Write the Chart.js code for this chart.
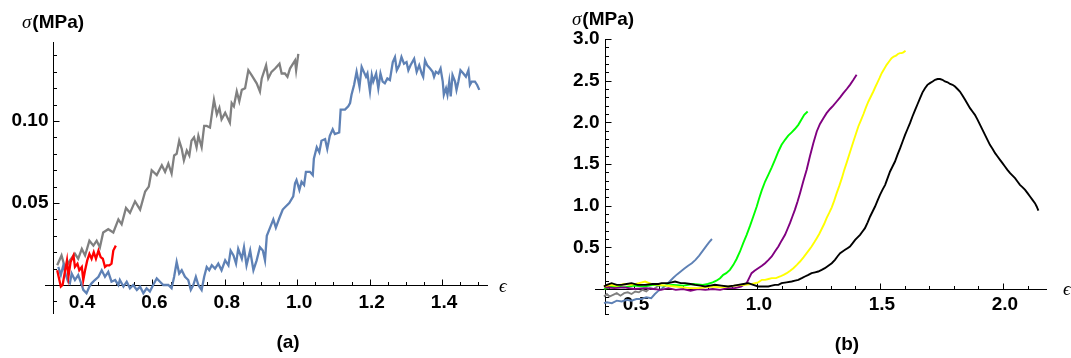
<!DOCTYPE html>
<html lang="en">
<head>
  <meta charset="UTF-8" />
  <title>Stress-strain curves (a) and (b)</title>
  <script src="https://cdnjs.cloudflare.com/ajax/libs/Chart.js/4.4.1/chart.umd.min.js"></script>
  <style>
    *{margin:0;padding:0;box-sizing:border-box}
    body{width:1071px;height:358px;background:#fff;overflow:hidden;position:relative}
    canvas{position:absolute;top:0}
    #chartA{left:0}
    #chartB{left:535px}
  </style>
</head>
<body>
  <canvas id="chartA" width="535" height="358"></canvas>
  <canvas id="chartB" width="536" height="358"></canvas>

  <script>
    // ---- panel (a) data : [strain, stress MPa] ----
    const grayA = [[0.337,0.012],[0.349,0.018],[0.359,0.010],[0.372,0.015],[0.386,0.019],[0.395,0.016],[0.405,0.022],[0.414,0.018],[0.426,0.027],[0.437,0.024],[0.446,0.027],[0.455,0.023],[0.464,0.032],[0.478,0.034],[0.492,0.032],[0.506,0.040],[0.515,0.037],[0.527,0.047],[0.538,0.044],[0.552,0.051],[0.566,0.046],[0.580,0.057],[0.590,0.060],[0.598,0.070],[0.612,0.067],[0.626,0.073],[0.635,0.069],[0.644,0.074],[0.653,0.068],[0.660,0.079],[0.667,0.080],[0.674,0.088],[0.681,0.083],[0.687,0.076],[0.695,0.082],[0.702,0.079],[0.708,0.088],[0.715,0.090],[0.722,0.084],[0.727,0.091],[0.736,0.084],[0.743,0.097],[0.750,0.097],[0.759,0.096],[0.766,0.107],[0.770,0.113],[0.778,0.104],[0.785,0.108],[0.791,0.101],[0.801,0.105],[0.814,0.099],[0.819,0.111],[0.825,0.109],[0.833,0.118],[0.840,0.112],[0.847,0.119],[0.856,0.120],[0.865,0.131],[0.874,0.128],[0.888,0.123],[0.897,0.118],[0.902,0.126],[0.914,0.134],[0.920,0.126],[0.929,0.130],[0.939,0.132],[0.951,0.135],[0.957,0.129],[0.966,0.129],[0.973,0.127],[0.980,0.132],[0.994,0.137],[0.997,0.131],[1.003,0.141]];
    const blueA = [[0.340,0.011],[0.347,0.006],[0.354,0.012],[0.361,0.006],[0.367,0.002],[0.372,0.001],[0.377,0.007],[0.386,0.003],[0.395,0.006],[0.405,0.000],[0.409,-0.003],[0.418,-0.005],[0.426,-0.001],[0.432,0.001],[0.441,0.003],[0.451,0.005],[0.460,0.009],[0.469,0.005],[0.478,0.008],[0.487,0.002],[0.497,0.003],[0.506,0.000],[0.510,0.003],[0.520,-0.001],[0.529,0.002],[0.538,-0.002],[0.547,0.000],[0.557,-0.003],[0.566,-0.001],[0.575,-0.005],[0.584,-0.002],[0.593,-0.004],[0.602,0.000],[0.612,0.004],[0.621,0.002],[0.630,0.000],[0.644,0.000],[0.653,-0.002],[0.660,0.005],[0.667,0.014],[0.674,0.007],[0.681,0.009],[0.690,0.005],[0.699,0.003],[0.706,-0.003],[0.713,0.000],[0.720,0.005],[0.727,0.000],[0.736,-0.003],[0.743,0.005],[0.750,0.011],[0.757,0.009],[0.764,0.012],[0.773,0.010],[0.782,0.013],[0.791,0.009],[0.801,0.015],[0.810,0.012],[0.816,0.021],[0.824,0.018],[0.831,0.013],[0.837,0.022],[0.847,0.016],[0.853,0.023],[0.860,0.012],[0.870,0.021],[0.879,0.009],[0.888,0.015],[0.897,0.023],[0.905,0.021],[0.911,0.015],[0.916,0.030],[0.925,0.035],[0.934,0.040],[0.941,0.035],[0.951,0.041],[0.960,0.046],[0.969,0.048],[0.978,0.050],[0.989,0.054],[0.994,0.062],[0.998,0.064],[1.006,0.058],[1.012,0.063],[1.019,0.061],[1.024,0.069],[1.035,0.069],[1.043,0.067],[1.046,0.077],[1.054,0.084],[1.061,0.081],[1.067,0.088],[1.077,0.089],[1.083,0.083],[1.090,0.091],[1.098,0.095],[1.104,0.092],[1.116,0.093],[1.120,0.107],[1.132,0.107],[1.141,0.109],[1.146,0.111],[1.150,0.116],[1.157,0.122],[1.164,0.130],[1.172,0.121],[1.178,0.133],[1.184,0.130],[1.190,0.127],[1.194,0.129],[1.201,0.118],[1.206,0.128],[1.210,0.124],[1.218,0.129],[1.224,0.120],[1.230,0.129],[1.236,0.124],[1.242,0.123],[1.249,0.126],[1.256,0.125],[1.264,0.136],[1.270,0.139],[1.275,0.131],[1.282,0.134],[1.288,0.139],[1.295,0.135],[1.302,0.136],[1.307,0.131],[1.313,0.134],[1.323,0.138],[1.330,0.130],[1.337,0.134],[1.344,0.129],[1.348,0.127],[1.353,0.137],[1.359,0.134],[1.367,0.132],[1.374,0.130],[1.378,0.127],[1.383,0.130],[1.390,0.129],[1.396,0.132],[1.402,0.124],[1.405,0.116],[1.411,0.120],[1.415,0.116],[1.420,0.124],[1.424,0.115],[1.429,0.128],[1.436,0.124],[1.440,0.119],[1.445,0.124],[1.451,0.131],[1.459,0.129],[1.466,0.127],[1.473,0.131],[1.477,0.122],[1.482,0.124],[1.491,0.124],[1.497,0.122],[1.503,0.119]];
    const redA = [[0.337,0.009],[0.347,-0.001],[0.352,0.000],[0.359,0.009],[0.364,0.015],[0.368,0.005],[0.374,0.014],[0.382,0.018],[0.386,0.011],[0.393,0.013],[0.398,0.009],[0.405,0.011],[0.409,0.003],[0.414,0.009],[0.420,0.015],[0.426,0.019],[0.432,0.016],[0.438,0.020],[0.444,0.016],[0.451,0.021],[0.457,0.017],[0.463,0.016],[0.469,0.011],[0.474,0.012],[0.481,0.012],[0.487,0.013],[0.492,0.021],[0.499,0.024]];

    // ---- panel (b) data ----
    const redB = [[0.378,0.03],[0.386,0.04],[0.395,0.02],[0.405,0.04],[0.415,0.03],[0.425,0.03]];
    const grayB = [[0.378,-0.09],[0.390,-0.06],[0.400,-0.09],[0.415,-0.07],[0.430,-0.05],[0.445,-0.08],[0.460,-0.05],[0.475,-0.04],[0.490,-0.06],[0.505,-0.03],[0.520,-0.04],[0.535,-0.01],[0.550,-0.03],[0.565,0.01],[0.580,0.00],[0.595,0.03],[0.610,0.05]];
    const blueB = [[0.378,-0.17],[0.390,-0.16],[0.410,-0.17],[0.430,-0.14],[0.450,-0.15],[0.470,-0.13],[0.490,-0.14],[0.510,-0.12],[0.530,-0.12],[0.550,-0.10],[0.570,-0.11],[0.585,-0.06],[0.600,-0.02],[0.615,0.01],[0.630,0.045],[0.645,0.09],[0.660,0.135],[0.675,0.175],[0.690,0.21],[0.705,0.245],[0.720,0.28],[0.735,0.31],[0.750,0.35],[0.765,0.40],[0.780,0.46],[0.795,0.52],[0.805,0.56],[0.817,0.60]];
    const greenB = [[0.378,0.00],[0.400,0.02],[0.430,0.03],[0.460,0.02],[0.500,0.04],[0.540,0.03],[0.580,0.05],[0.620,0.04],[0.660,0.05],[0.700,0.04],[0.740,0.06],[0.780,0.05],[0.800,0.06],[0.820,0.08],[0.835,0.10],[0.850,0.13],[0.863,0.17],[0.875,0.19],[0.890,0.23],[0.904,0.29],[0.917,0.36],[0.931,0.45],[0.944,0.55],[0.958,0.65],[0.972,0.76],[0.985,0.87],[0.999,0.99],[1.008,1.08],[1.019,1.18],[1.033,1.29],[1.046,1.37],[1.060,1.46],[1.073,1.55],[1.087,1.65],[1.100,1.73],[1.114,1.79],[1.127,1.84],[1.141,1.88],[1.154,1.92],[1.168,1.97],[1.182,2.04],[1.192,2.09],[1.206,2.13]];
    const purpleB = [[0.380,0.02],[0.420,0.01],[0.460,0.02],[0.500,0.00],[0.550,0.01],[0.580,0.00],[0.610,-0.01],[0.640,0.01],[0.670,-0.01],[0.700,0.00],[0.730,-0.02],[0.760,0.00],[0.790,-0.01],[0.820,0.00],[0.850,-0.01],[0.880,0.01],[0.910,0.01],[0.935,0.03],[0.958,0.07],[0.968,0.13],[0.978,0.19],[0.990,0.22],[1.005,0.25],[1.020,0.28],[1.033,0.31],[1.047,0.35],[1.060,0.39],[1.073,0.45],[1.087,0.51],[1.100,0.58],[1.114,0.65],[1.124,0.72],[1.134,0.79],[1.144,0.87],[1.154,0.95],[1.165,1.05],[1.175,1.15],[1.188,1.29],[1.202,1.43],[1.215,1.59],[1.229,1.75],[1.243,1.89],[1.256,1.98],[1.270,2.05],[1.283,2.11],[1.297,2.16],[1.310,2.20],[1.324,2.25],[1.338,2.30],[1.351,2.35],[1.365,2.40],[1.378,2.45],[1.392,2.51],[1.405,2.57]];
    const yellowB = [[0.378,0.03],[0.400,0.05],[0.430,0.04],[0.460,0.06],[0.490,0.05],[0.520,0.07],[0.545,0.09],[0.570,0.06],[0.600,0.05],[0.630,0.04],[0.667,0.03],[0.700,0.02],[0.730,0.01],[0.762,0.01],[0.790,0.02],[0.820,0.03],[0.850,0.02],[0.883,0.03],[0.910,0.04],[0.951,0.05],[0.980,0.06],[1.005,0.08],[1.020,0.11],[1.033,0.11],[1.047,0.12],[1.060,0.13],[1.077,0.13],[1.094,0.15],[1.108,0.17],[1.121,0.19],[1.135,0.22],[1.148,0.25],[1.162,0.29],[1.175,0.33],[1.189,0.38],[1.202,0.43],[1.212,0.47],[1.222,0.51],[1.233,0.56],[1.243,0.61],[1.253,0.66],[1.263,0.72],[1.273,0.78],[1.283,0.85],[1.293,0.91],[1.304,0.98],[1.314,1.06],[1.324,1.15],[1.335,1.24],[1.345,1.33],[1.355,1.43],[1.365,1.52],[1.378,1.64],[1.392,1.77],[1.402,1.86],[1.412,1.95],[1.422,2.02],[1.433,2.10],[1.443,2.18],[1.453,2.25],[1.463,2.31],[1.473,2.37],[1.482,2.43],[1.490,2.48],[1.498,2.53],[1.507,2.59],[1.517,2.64],[1.527,2.69],[1.537,2.73],[1.547,2.77],[1.556,2.79],[1.565,2.80],[1.573,2.82],[1.581,2.83],[1.588,2.83],[1.595,2.84],[1.604,2.86]];
    const blackB = [[0.378,0.03],[0.390,0.05],[0.409,0.07],[0.430,0.05],[0.450,0.05],[0.470,0.06],[0.490,0.07],[0.515,0.05],[0.545,0.05],[0.575,0.06],[0.600,0.06],[0.612,0.07],[0.640,0.07],[0.667,0.09],[0.690,0.07],[0.707,0.07],[0.730,0.06],[0.748,0.05],[0.770,0.04],[0.789,0.03],[0.810,0.04],[0.829,0.05],[0.855,0.04],[0.883,0.03],[0.905,0.04],[0.924,0.05],[0.945,0.06],[0.965,0.07],[0.985,0.05],[1.005,0.03],[1.025,0.03],[1.046,0.03],[1.060,0.04],[1.073,0.05],[1.087,0.05],[1.100,0.07],[1.120,0.08],[1.141,0.09],[1.155,0.10],[1.168,0.11],[1.182,0.13],[1.195,0.15],[1.209,0.17],[1.222,0.19],[1.236,0.20],[1.249,0.21],[1.263,0.23],[1.276,0.25],[1.290,0.28],[1.304,0.31],[1.317,0.35],[1.327,0.39],[1.338,0.43],[1.348,0.45],[1.358,0.47],[1.368,0.49],[1.378,0.51],[1.389,0.55],[1.399,0.59],[1.409,0.62],[1.419,0.65],[1.429,0.69],[1.439,0.73],[1.450,0.80],[1.460,0.87],[1.470,0.93],[1.480,0.99],[1.490,1.06],[1.500,1.13],[1.510,1.19],[1.521,1.25],[1.531,1.33],[1.541,1.41],[1.551,1.47],[1.561,1.53],[1.571,1.61],[1.582,1.69],[1.592,1.77],[1.602,1.85],[1.612,1.92],[1.622,1.99],[1.632,2.07],[1.643,2.15],[1.653,2.22],[1.663,2.29],[1.673,2.36],[1.683,2.41],[1.693,2.45],[1.703,2.47],[1.714,2.49],[1.724,2.51],[1.734,2.52],[1.744,2.52],[1.754,2.51],[1.764,2.49],[1.775,2.48],[1.785,2.46],[1.795,2.45],[1.805,2.43],[1.815,2.40],[1.825,2.37],[1.836,2.32],[1.846,2.27],[1.856,2.22],[1.866,2.17],[1.876,2.13],[1.886,2.09],[1.897,2.03],[1.907,1.97],[1.917,1.91],[1.927,1.85],[1.937,1.79],[1.947,1.73],[1.958,1.68],[1.968,1.63],[1.978,1.59],[1.988,1.55],[1.998,1.51],[2.008,1.47],[2.018,1.43],[2.029,1.39],[2.039,1.36],[2.049,1.33],[2.059,1.29],[2.069,1.25],[2.080,1.22],[2.090,1.19],[2.100,1.15],[2.110,1.11],[2.120,1.07],[2.130,1.03],[2.137,0.99],[2.144,0.94]];

    // ---- tick labels ----
    const xTicksA = [0.4, 0.6, 0.8, 1.0, 1.2, 1.4];
    const yTicksA = [0.05, 0.10];
    const xTicksB = [0.5, 1.0, 1.5, 2.0];
    const yTicksB = [0.5, 1.0, 1.5, 2.0, 2.5, 3.0];

    const BOLD = 'bold 19px "Liberation Sans", Arial, sans-serif';
    const ITAL = 'italic 19px "Liberation Serif", "DejaVu Serif", serif';

    // Mathematica-style axes: crossing lines, ticks pointing inward, minor ticks
    const mmaAxes = {
      id: 'mmaAxes',
      beforeDatasetsDraw(chart, args, o) {
        const {ctx, chartArea: a, scales: {x, y}} = chart;
        const ax = Math.round(x.getPixelForValue(o.yAxisAt)) + 0.5;
        const ay = Math.round(y.getPixelForValue(0)) + 0.5;
        const isMajor = (list, v) => list.some(t => Math.abs(t - v) < 1e-6);
        ctx.save();
        ctx.strokeStyle = '#000';
        ctx.lineWidth = 1;
        ctx.beginPath();
        ctx.moveTo(a.left, ay); ctx.lineTo(a.right, ay);
        ctx.moveTo(ax, a.top); ctx.lineTo(ax, a.bottom);
        for (let i = 0; ; i++) {
          const v = o.xMinor[0] + i * o.xMinor[1];
          if (v > x.max) break;
          const px = Math.round(x.getPixelForValue(v)) + 0.5;
          ctx.moveTo(px, ay); ctx.lineTo(px, ay - (isMajor(o.xTicks, v) ? 6 : 3.5));
        }
        for (let i = 0; ; i++) {
          const v = o.yMinor[0] + i * o.yMinor[1];
          if (v > y.max + 1e-9) break;
          const py = Math.round(y.getPixelForValue(v)) + 0.5;
          ctx.moveTo(ax, py); ctx.lineTo(ax + (isMajor(o.yTicks, v) ? 6 : 3.5), py);
        }
        ctx.stroke();

        ctx.fillStyle = '#000';
        ctx.font = BOLD;
        ctx.textBaseline = 'middle';
        ctx.textAlign = 'center';
        o.xTicks.forEach(v => ctx.fillText(v.toFixed(o.xDigits), x.getPixelForValue(v) + 2, ay + o.xLabelDy));
        ctx.textAlign = 'right';
        o.yTicks.forEach(v => ctx.fillText(v.toFixed(o.yDigits), ax - o.yLabelDx, y.getPixelForValue(v)));

        // axis titles
        ctx.textAlign = 'left';
        ctx.font = ITAL;
        ctx.fillText('σ', o.sigma[0], o.sigma[1]);
        const w = ctx.measureText('σ').width;
        ctx.font = BOLD;
        ctx.fillText('(MPa)', o.sigma[0] + w + 1, o.sigma[1]);
        ctx.font = ITAL;
        ctx.fillText('ϵ', o.eps[0], o.eps[1]);
        ctx.font = BOLD;
        ctx.textAlign = 'center';
        ctx.fillText(o.panel, o.panelAt[0], o.panelAt[1]);
        ctx.restore();
      }
    };

    const line = (pts, color, w) => ({
      data: pts.map(([x, y]) => ({x, y})),
      borderColor: color, borderWidth: w,
      pointRadius: 0, tension: 0, fill: false
    });

    const baseOptions = (pad, xr, yr, axes) => ({
      responsive: false, animation: false, events: [],
      layout: {padding: pad},
      scales: {
        x: {type: 'linear', min: xr[0], max: xr[1], display: false},
        y: {type: 'linear', min: yr[0], max: yr[1], display: false}
      },
      plugins: {legend: {display: false}, tooltip: {enabled: false}, mmaAxes: axes}
    });

    // panel (a)  (first dataset is drawn on top)
    new Chart(document.getElementById('chartA'), {
      type: 'line',
      data: {datasets: [
        line(redA, '#ff0000', 2.3),
        line(blueA, '#5e81b5', 2.3),
        line(grayA, '#808080', 2.3)
      ]},
      options: baseOptions({left: 45, top: 42, right: 47, bottom: 44},
        [0.3033, 1.527], [-0.0177, 0.1482],
        {yAxisAt: 0.325, xTicks: xTicksA, yTicks: yTicksA, xMinor: [0.35, 0.05], yMinor: [-0.01, 0.01],
         xDigits: 1, yDigits: 2, xLabelDy: 17, yLabelDx: 5,
         sigma: [22, 23], eps: [499, 287], panel: '(a)', panelAt: [288, 343]}),
      plugins: [mmaAxes]
    });

    // panel (b)
    new Chart(document.getElementById('chartB'), {
      type: 'line',
      data: {datasets: [
        line(blackB, '#000000', 1.9),
        line(yellowB, '#ffff00', 1.9),
        line(purpleB, '#800080', 1.9),
        line(greenB, '#00ff00', 1.9),
        line(blueB, '#5e81b5', 1.9),
        line(grayB, '#808080', 1.9),
        line(redB, '#ff0000', 1.9)
      ]},
      options: baseOptions({left: 60, top: 39, right: 24, bottom: 43},
        [0.3415, 2.179], [-0.312, 3.0],
        {yAxisAt: 0.382, xTicks: xTicksB, yTicks: yTicksB, xMinor: [0.4, 0.1], yMinor: [-0.3, 0.1],
         xDigits: 1, yDigits: 1, xLabelDy: 15, yLabelDx: 6,
         sigma: [37, 20], eps: [528, 290], panel: '(b)', panelAt: [312, 345]}),
      plugins: [mmaAxes]
    });
  </script>
</body>
</html>
